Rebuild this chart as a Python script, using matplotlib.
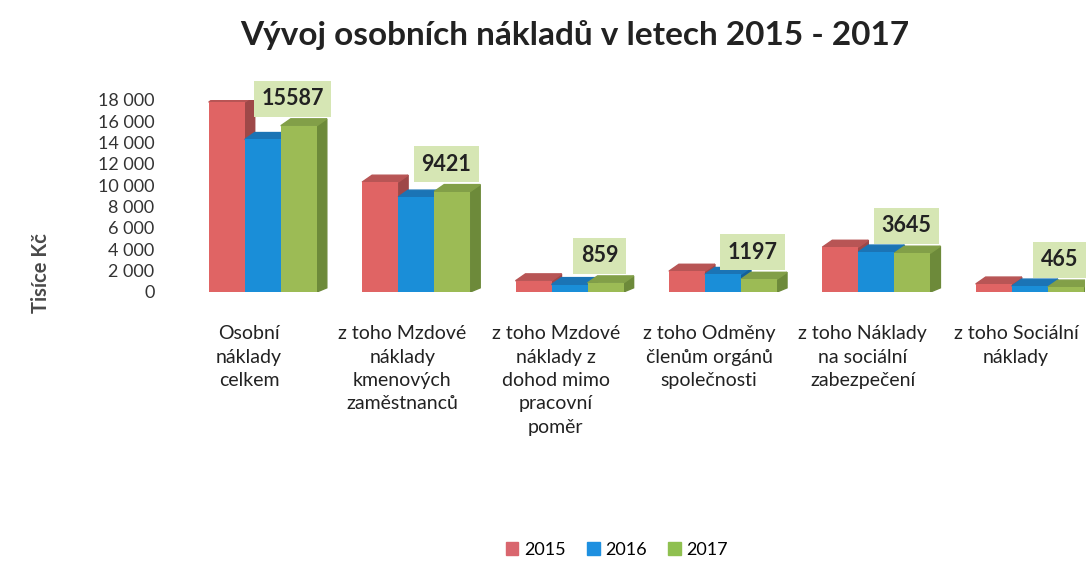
import numpy as np
import matplotlib.pyplot as plt
from matplotlib.patches import Polygon, Patch

plt.rcParams['font.family'] = ['Lato', 'DejaVu Sans']

categories = [
    "Osobní\nnáklady\ncelkem",
    "z toho Mzdové\nnáklady\nkmenových\nzaměstnanců",
    "z toho Mzdové\nnáklady z\ndohod mimo\npracovní\npoměr",
    "z toho Odměny\nčlenům orgánů\nspolečnosti",
    "z toho Náklady\nna sociální\nzabezpečení",
    "z toho Sociální\nnáklady",
]
years = ["2015", "2016", "2017"]
v2015 = [17800, 10300, 1050, 1950, 4200, 750]
v2016 = [14300, 8900, 700, 1650, 3750, 560]
v2017 = [15587, 9421, 859, 1197, 3645, 465]

front = ["#e06464", "#1a8ed8", "#9cbb55"]
side = ["#9e4848", "#14609a", "#6d8a3a"]
top = ["#b85555", "#1b74b5", "#829f48"]

fig = plt.figure(figsize=(10.88, 5.62), dpi=100)
ax = fig.add_axes([160 / 1088, 1 - 292 / 562, 925 / 1088, 192 / 562])

x = np.arange(len(categories))
w = 0.235
dx = 0.065   # depth in x (data units)
dy = 650     # depth in y (data units)

series = [v2015, v2016, v2017]
for i, vals in enumerate(series):
    xs = x + (i - 1) * w
    ax.bar(xs, vals, width=w, color=front[i], zorder=3 + 2 * i)
    for xc, v in zip(xs, vals):
        r = xc + w / 2
        l = xc - w / 2
        ax.add_patch(Polygon([(r, 0), (r + dx, dy * 0.6), (r + dx, v + dy), (r, v)],
                             closed=True, color=side[i], zorder=2 + 2 * i))
        ax.add_patch(Polygon([(l, v), (l + dx, v + dy), (r + dx, v + dy), (r, v)],
                             closed=True, color=top[i], zorder=2 + 2 * i))

# data labels for 2017
for xc, v in zip(x + w, v2017):
    ax.annotate(str(v), (xc - 0.04, v + dy), xytext=(0, 7), textcoords="offset points",
                ha="center", va="bottom", fontsize=15.5, fontweight="bold", color="#222222",
                bbox=dict(boxstyle="square,pad=0.35", fc="#d6e6b4", ec="none"), zorder=20)

ax.set_ylim(0, 18000)
ax.set_yticks(np.arange(0, 18001, 2000))
ax.set_yticklabels([f"{t:,}".replace(",", " ") for t in range(0, 18001, 2000)],
                   fontsize=13, color="#333333")
ax.set_xlim(-0.67, 5.36)
ax.set_xticks(x - 0.09)
ax.set_xticklabels(categories, fontsize=14, color="#222222", linespacing=1.45, va="top")
ax.tick_params(axis="both", length=0)
ax.tick_params(axis="x", pad=24)
ax.tick_params(axis="y", pad=4)
for s in ax.spines.values():
    s.set_visible(False)

ax.set_ylabel("Tisíce Kč", fontsize=14.5, fontweight="bold", color="#4a4a4a")
ax.yaxis.set_label_coords(-0.118, 0.1)

fig.suptitle("Vývoj osobních nákladů v letech 2015 - 2017", fontsize=24,
             fontweight="bold", color="#222222", x=0.528, y=0.965)

handles = [Patch(color=c) for c in ["#d9666e", "#1e90e0", "#8fc050"]]
fig.legend(handles, years, loc="center", bbox_to_anchor=(0.567, 0.022), ncol=3,
           frameon=False, fontsize=13, handlelength=0.7, handleheight=0.7,
           columnspacing=1.2, handletextpad=0.3)

fig.savefig("out.png", dpi=100)
